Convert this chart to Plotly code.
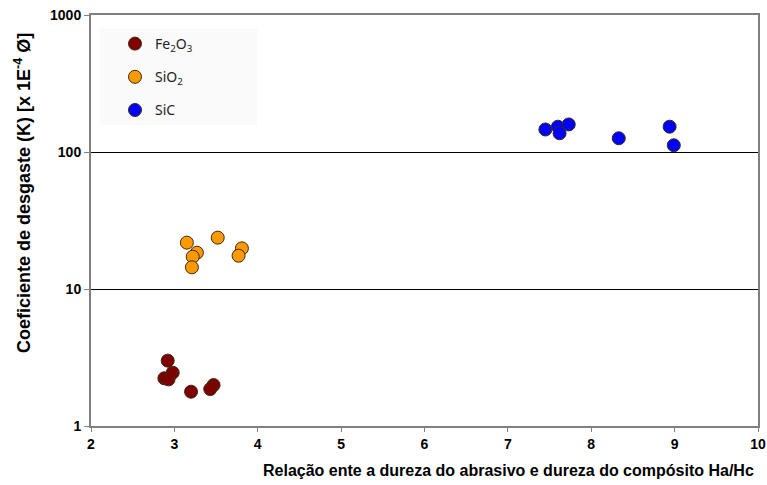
import plotly.graph_objects as go

# Data
fe_x = [2.92, 2.98, 2.88, 2.93, 3.20, 3.47, 3.43]
fe_y = [3.0, 2.45, 2.23, 2.19, 1.78, 1.99, 1.86]

sio2_x = [3.15, 3.52, 3.27, 3.22, 3.21, 3.81, 3.77]
sio2_y = [21.8, 23.7, 18.4, 17.2, 14.4, 19.8, 17.5]

sic_x = [7.45, 7.60, 7.62, 7.73, 8.33, 8.94, 8.99]
sic_y = [146, 153, 137, 159, 126, 153, 112]

series_names = ["Fe<sub>2</sub>O<sub>3</sub>", "SiO<sub>2</sub>", "SiC"]
series_colors = ["#7f0000", "#ff9900", "#0000ff"]

y_tick_vals = [1, 10, 100, 1000]
y_tick_text = ["1", "10", "100", "1000"]
x_tick_vals = [2, 3, 4, 5, 6, 7, 8, 9, 10]

x_title = "Relação ente a dureza do abrasivo e dureza do compósito Ha/Hc"
y_title = "Coeficiente de desgaste (K) [x 1E<sup>-4</sup> Ø]"

BOLD_FONT = "Liberation Sans, Arial"

L, R, T, B = 91, 9, 15, 59
PW, PH = 767 - L - R, 485 - T - B

fig = go.Figure()
for i, (xs, ys) in enumerate([(fe_x, fe_y), (sio2_x, sio2_y), (sic_x, sic_y)]):
    fig.add_trace(go.Scatter(
        x=xs, y=ys, mode="markers", name=series_names[i],
        legendgroup=str(i),
        marker=dict(size=13, color=series_colors[i],
                    line=dict(color="#3a2a10", width=1)),
    ))

fig.update_layout(
    width=767, height=485,
    margin=dict(l=L, r=R, t=T, b=B, autoexpand=False),
    paper_bgcolor="white", plot_bgcolor="white",
    showlegend=True,
    legend=dict(
        x=(115 - L) / PW, y=(485 - B - 28) / PH, xanchor="left", yanchor="top",
        bgcolor="rgba(0,0,0,0)", borderwidth=0,
        font=dict(family="Noto Sans, Open Sans", size=14, color="#222"),
        tracegroupgap=12,
    ),
    shapes=[
        dict(type="rect", xref="paper", yref="paper",
             x0=(100 - L) / PW, x1=(257 - L) / PW,
             y0=(485 - B - 125) / PH, y1=(485 - B - 28) / PH,
             fillcolor="#fafafa", line=dict(width=0), layer="below"),
    ],
    xaxis=dict(
        range=[2, 10], tickvals=x_tick_vals, automargin=False,
        showgrid=False, zeroline=False,
        showline=True, linecolor="#808080", linewidth=2, mirror=True,
        ticks="outside", ticklen=4, tickcolor="#808080",
        ticklabeloverflow="allow",
        tickfont=dict(family=BOLD_FONT, size=14, color="black", weight="bold"),
    ),
    yaxis=dict(
        type="log", range=[0, 3], tickvals=y_tick_vals, ticktext=y_tick_text,
        automargin=False,
        showgrid=True, gridcolor="black", gridwidth=1,
        zeroline=False,
        showline=True, linecolor="#808080", linewidth=2, mirror=True,
        ticks="outside", ticklen=5, tickcolor="#808080",
        tickfont=dict(family=BOLD_FONT, size=14, color="black", weight="bold"),
    ),
    annotations=[
        dict(text="<b>" + x_title + "</b>", xref="paper", yref="paper",
             x=(509 - L) / PW, y=-(470 - (485 - B)) / PH,
             xanchor="center", yanchor="middle", showarrow=False,
             font=dict(family=BOLD_FONT, size=16, color="black")),
        dict(text="<b>" + y_title + "</b>", xref="paper", yref="paper",
             x=-(L - 22) / PW, y=(485 - B - 193) / PH, textangle=-90,
             xanchor="center", yanchor="middle", showarrow=False,
             font=dict(family=BOLD_FONT, size=18, color="black")),
    ],
)

fig.write_html("out.html", config={"displayModeBar": False},
               post_script="document.body.style.margin='0';")
